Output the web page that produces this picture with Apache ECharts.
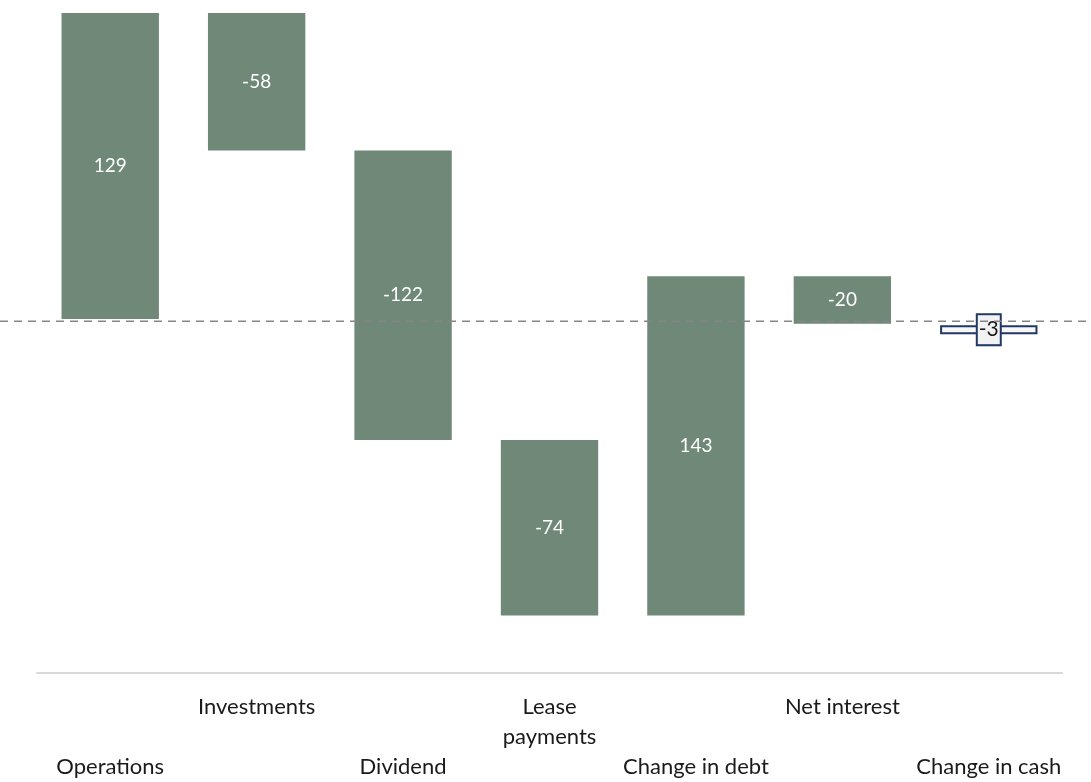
<!DOCTYPE html>
<html>
<head>
<meta charset="utf-8">
<script src="https://cdn.jsdelivr.net/npm/echarts@6/dist/echarts.min.js"></script>
<style>
html,body{margin:0;padding:0;background:#fff;}
#chart{width:1091px;height:782px;}
</style>
</head>
<body>
<div id="chart"></div>
<script>
const categories = ['Operations','Investments','Dividend','Lease payments','Change in debt','Net interest','Change in cash'];
const axisLabels = ['Operations','Investments','Dividend','Lease\npayments','Change in debt','Net interest','Change in cash'];
const barStart = [0, 129, 71, -51, -125, 18, -2.6];
const barEnd = [129, 71, -51, -125, 18, -2, -6.4];
const valueLabels = ['129', '-58', '-122', '-74', '143', '-20', '-3'];
const referenceLine = 0;

const yMin = -149.2, yMax = 129;
const green = '#6f8878';

const baseData = barStart.map((s, i) => Math.min(s, barEnd[i]));
const deltaData = barStart.map((s, i) => {
  const v = Math.abs(barEnd[i] - s);
  const last = i === categories.length - 1;
  return {
    value: v,
    itemStyle: last ? { color: '#f7f7f7', borderColor: '#1f3864', borderWidth: 2 } : { color: green },
    label: last ? {
      color: '#1a1a1a', backgroundColor: '#f2f2f2', borderColor: '#1f3864', borderWidth: 2,
      padding: [5, 1, 3, 1], fontSize: 21
    } : {}
  };
});

const chart = echarts.init(document.getElementById('chart'));
chart.setOption({
  animation: false,
  textStyle: { fontFamily: 'Lato' },
  grid: [
    { left: 37, right: 29, top: 13, bottom: 104, containLabel: false },
    { left: 0, right: 0, top: 13, bottom: 104, containLabel: false }
  ],
  xAxis: [
    {
      type: 'category', gridIndex: 0, data: categories,
      axisLine: { onZero: false, lineStyle: { color: '#d9d9d9', width: 2 } },
      axisTick: { show: false },
      axisLabel: {
        interval: 0, color: '#1a1a1a', fontSize: 22, lineHeight: 30, margin: 19,
        formatter: (v, i) => (i % 2 === 0 ? '\n\n' : '') + axisLabels[i]
      }
    },
    { type: 'value', gridIndex: 1, min: 0, max: 1, show: false }
  ],
  yAxis: [
    { type: 'value', gridIndex: 0, min: yMin, max: yMax, show: false, splitLine: { show: false } },
    { type: 'value', gridIndex: 1, min: yMin, max: yMax, show: false, splitLine: { show: false } }
  ],
  series: [
    {
      type: 'bar', name: 'base', stack: 'wf', stackStrategy: 'all',
      xAxisIndex: 0, yAxisIndex: 0, barWidth: '66.5%',
      itemStyle: { color: 'transparent' }, emphasis: { disabled: true },
      data: baseData
    },
    {
      type: 'bar', name: 'delta', stack: 'wf', stackStrategy: 'all',
      xAxisIndex: 0, yAxisIndex: 0, barWidth: '66.5%',
      label: {
        show: true, position: 'inside', color: '#ffffff', fontSize: 19,
        formatter: p => valueLabels[p.dataIndex]
      },
      data: deltaData,
      z: 2
    },
    {
      type: 'line', xAxisIndex: 1, yAxisIndex: 1, symbol: 'none', silent: true,
      lineStyle: { color: '#858585', width: 1.5, type: [8, 6] },
      data: [[0, referenceLine], [1, referenceLine]],
      z: 3
    }
  ]
});
</script>
</body>
</html>
